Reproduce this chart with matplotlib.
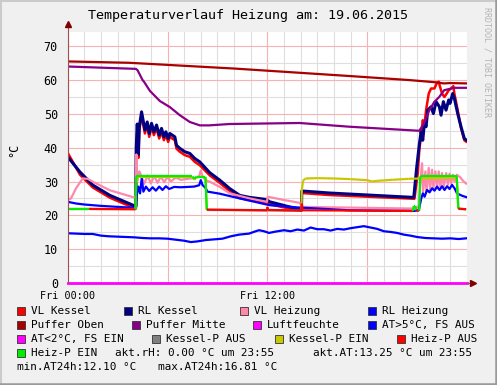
import numpy as np
import matplotlib
matplotlib.use('Agg')
import matplotlib.pyplot as plt
from matplotlib.patches import Rectangle
from matplotlib.lines import Line2D

W, H = 497, 385
MONO = 'DejaVu Sans Mono'

# --- data (hours since Fri 00:00, degrees C) ---
oben_t = [0, 3.7, 10, 16.9, 20.5, 22.2, 22.6, 23.0, 24]
oben_v = [65.5, 65.1, 63.4, 61.2, 60.0, 59.3, 59.0, 59.1, 59.0]

mitte_t = [0, 4.1, 4.2, 4.5, 4.6, 4.94, 5.54, 6.14, 6.74, 7.34, 7.94, 8.5, 9.74, 13.94,
           16.93, 21.13, 21.4, 21.73, 22.03, 22.33, 22.63, 23.23, 23.95]
mitte_v = [64.0, 63.3, 62.9, 60.0, 59.4, 56.8, 53.8, 52.0, 49.6, 47.6, 46.6, 46.6, 47.0, 47.3,
           46.2, 45.0, 47.0, 51.0, 53.5, 55.0, 57.0, 57.7, 57.7]

rlk_t = [0, 0.74, 1.52, 2.54, 3.92, 4.1, 4.12, 4.18, 4.25, 4.3, 4.44, 4.64, 4.78, 4.9, 5.04,
         5.18, 5.34, 5.5, 5.64, 5.78, 5.9, 6.04, 6.14, 6.44, 6.54, 6.74, 7.04, 7.34, 7.64,
         7.94, 8.54, 9.14, 9.74, 10.34, 10.94, 11.94, 12.14, 12.94, 13.94, 14.05, 14.07,
         15.74, 20.8, 20.98, 21.14, 21.24, 21.34, 21.44, 21.54, 21.64, 21.84, 21.98, 22.14,
         22.34, 22.44, 22.58, 22.74, 22.9, 22.98, 23.14, 23.24, 23.44, 23.64, 23.84, 23.95]
rlk_v = [37.3, 32.8, 28.9, 25.9, 23.0, 22.7, 40.0, 47.0, 38.0, 46.0, 50.6, 45.2, 47.6, 44.2, 47.2,
         44.7, 46.7, 43.7, 45.7, 43.2, 44.7, 42.7, 44.2, 43.2, 40.7, 39.8, 38.8, 38.3, 36.8,
         35.8, 32.6, 30.4, 27.9, 25.9, 25.3, 24.7, 24.0, 23.0, 21.7, 21.5, 27.2,
         26.6, 25.3, 34.3, 41.2, 44.7, 42.2, 47.2, 46.2, 51.1, 52.1, 50.1, 53.6,
         52.1, 49.6, 53.6, 51.1, 54.1, 53.1, 56.0, 54.6, 50.1, 46.2, 42.7, 42.3]

vlk_t = [0, 0.74, 1.52, 2.54, 3.92, 4.1, 4.12, 4.18, 4.25, 4.3, 4.44, 4.64, 4.78, 4.9, 5.04,
         5.18, 5.34, 5.5, 5.64, 5.78, 5.9, 6.04, 6.14, 6.44, 6.54, 6.74, 7.04, 7.34, 7.64,
         7.94, 8.54, 9.14, 9.74, 10.34, 10.94, 11.94, 12.14, 12.94, 13.94, 14.05, 14.07,
         15.74, 20.84, 21.04, 21.14, 21.24, 21.34, 21.44, 21.54, 21.7, 21.84, 22.04, 22.18,
         22.3, 22.38, 22.5, 22.64, 22.78, 22.9, 23.04, 23.18, 23.24, 23.44, 23.64, 23.84, 23.95]
vlk_v = [38.5, 32.0, 28.2, 25.2, 22.3, 22.0, 39.0, 46.0, 37.0, 45.0, 49.6, 44.2, 46.6, 43.2, 46.2,
         43.7, 45.7, 42.7, 44.7, 42.2, 43.7, 41.7, 43.2, 42.2, 39.7, 38.8, 37.8, 37.3, 35.8,
         34.8, 31.8, 29.6, 27.1, 25.1, 24.5, 23.9, 23.3, 22.4, 21.5, 21.4, 26.6,
         26.0, 24.9, 32.4, 39.8, 43.2, 48.1, 46.5, 51.1, 56.0, 57.5, 57.5, 59.0,
         59.5, 58.0, 56.0, 55.0, 56.0, 57.0, 57.5, 58.2, 56.0, 51.1, 45.8, 42.2, 41.8]

vlh_t = [0, 0.2, 0.5, 0.9, 1.2, 1.52, 2.54, 3.92, 4.1, 4.13, 4.17, 4.2, 4.3, 4.44, 4.6, 4.8, 5.0,
         5.2, 5.4, 5.6, 5.8, 6.0, 6.2, 6.5, 6.8, 7.2, 7.6, 7.9, 8.0, 8.1, 8.3, 8.6, 9.14, 9.74,
         10.94, 11.98, 12.02, 12.94, 13.94, 14.1, 20.8, 21.1, 21.2, 21.3, 21.36, 21.5, 21.56,
         21.7, 21.78, 21.9, 21.98, 22.1, 22.2, 22.3, 22.4, 22.5, 22.6, 22.75, 22.85, 22.95,
         23.05, 23.15, 23.25, 23.4, 23.6, 23.8, 23.95]
vlh_v = [24.5, 25.0, 28.0, 30.9, 30.8, 29.9, 27.4, 25.4, 25.3, 38.0, 30.0, 30.5, 33.0, 31.5, 29.3,
         31.8, 29.4, 31.7, 29.6, 31.5, 29.8, 31.4, 30.0, 31.2, 30.5, 30.8, 31.0, 31.5, 33.3, 31.5,
         30.4, 29.8, 28.4, 26.5, 25.0, 24.0, 25.5, 24.6, 23.7, 22.5, 22.0, 22.5, 30.0, 35.4,
         27.0, 33.0, 27.0, 34.0, 27.5, 33.5, 28.0, 33.0, 28.0, 33.0, 28.5, 32.5, 28.5, 32.5,
         29.0, 32.3, 29.5, 32.0, 30.0, 32.0, 31.2, 30.0, 29.4]

rlh_t = [0, 0.5, 1, 2, 3, 4.1, 4.15, 4.25, 4.35, 4.45, 4.55, 4.7, 4.9, 5.1, 5.3, 5.5, 5.7, 5.9,
         6.1, 6.4, 6.8, 7.2, 7.6, 7.9, 8.0, 8.1, 8.3, 8.4, 8.54, 9.14, 10.34, 12.14, 13.94,
         16.94, 20.8, 21.1, 21.25, 21.35, 21.45, 21.6, 21.75, 21.9, 22.05, 22.2, 22.35, 22.5,
         22.65, 22.8, 22.95, 23.1, 23.25, 23.4, 23.7, 23.95]
rlh_v = [24.0, 23.5, 23.2, 22.8, 22.5, 22.2, 26.0, 28.5, 26.5, 31.0, 27.0, 28.5, 27.2, 28.3, 27.3,
         28.5, 27.5, 28.6, 27.8, 28.4, 28.3, 28.4, 28.5, 28.9, 30.4, 29.0, 28.0, 27.0, 26.9,
         26.4, 25.0, 23.0, 22.3, 21.5, 21.3, 21.5, 25.0, 26.5, 25.5, 27.5, 26.8, 28.0, 27.3,
         28.5, 27.5, 28.6, 27.5, 28.6, 27.8, 29.0, 28.0, 26.5, 25.8, 25.4]

at_t = [0, 0.5, 1.0, 1.5, 2.0, 2.5, 3, 3.5, 4, 4.5, 5, 5.5, 6, 6.5, 7, 7.4, 7.8, 8.3, 8.8, 9.3,
        9.8, 10.3, 10.9, 11.3, 11.5, 11.8, 12.1, 12.5, 13, 13.4, 13.8, 14.2, 14.6, 15.0, 15.4,
        15.8, 16.2, 16.6, 17, 17.4, 17.8, 18.2, 18.6, 19.0, 19.4, 19.8, 20.2, 20.6, 21, 21.5,
        22, 22.5, 23, 23.5, 23.95]
at_v = [14.7, 14.6, 14.5, 14.5, 14.0, 13.8, 13.7, 13.6, 13.5, 13.3, 13.2, 13.2, 13.1, 12.8, 12.5,
        12.1, 12.3, 12.7, 12.9, 13.1, 13.8, 14.3, 14.6, 15.3, 15.6, 15.3, 14.8, 15.2, 15.6, 15.3,
        15.8, 15.5, 16.4, 15.9, 15.9, 15.5, 16.0, 15.8, 16.2, 16.5, 16.8, 16.4, 16.0, 15.3, 15.1,
        14.8, 14.3, 14.0, 13.6, 13.3, 13.2, 13.1, 13.2, 13.0, 13.2]

luft_t = [0, 24]
luft_v = [0.0, 0.0]

kesselp_t = [0, 4.08, 4.12, 4.2, 7.5, 7.6, 7.75, 8.28, 8.36, 14.05, 14.07, 14.15, 14.3, 15, 16,
             17, 18, 18.3, 18.6, 19.5, 20.5, 21.2, 23.38, 23.48, 23.95]
kesselp_v = [21.8, 21.8, 31.3, 31.3, 31.3, 30.6, 31.2, 31.2, 21.6, 21.4, 27.5, 30.3, 30.9, 31.0,
             30.9, 30.7, 30.4, 30.0, 30.2, 30.5, 30.8, 30.9, 31.2, 21.9, 21.8]
kesselp_on = [0, 0, 1, 1, 1, 1, 1, 1, 0, 0, 1, 1, 1, 1, 1, 1, 1, 1, 1, 1, 1, 1, 1, 0, 0]

heizp_t = [0, 1.25, 1.3, 4.08, 4.12, 4.2, 7.5, 7.6, 7.75, 8.28, 8.36, 11.98, 12.0, 12.05, 14.04,
           14.07, 14.12, 20.75, 20.8, 20.9, 20.95, 21.13, 21.18, 21.25, 23.38, 23.48, 23.95]
heizp_v = [22.0, 22.0, 21.9, 21.8, 31.5, 31.5, 31.5, 30.8, 31.4, 31.4, 21.7, 21.5, 22.5, 21.6,
           21.4, 23.5, 21.5, 21.3, 22.8, 22.8, 21.5, 21.4, 31.2, 31.6, 31.6, 22.0, 21.8]
heizp_on = [1, 1, 0, 0, 1, 1, 1, 1, 1, 1, 0, 0, 0, 0, 0, 0, 0, 0, 1, 1, 0, 0, 1, 1, 1, 0, 0]

legend_rows = [
    [('#ff0000', 'VL Kessel', 16.7, 31), ('#000080', 'RL Kessel', 124.3, 138.3),
     ('#ff88aa', 'VL Heizung', 240, 254), ('#0000ff', 'RL Heizung', 368.3, 382.3)],
    [('#aa0000', 'Puffer Oben', 16.7, 31), ('#880088', 'Puffer Mitte', 131.7, 145.7),
     ('#ff00ff', 'Luftfeuchte', 253.3, 267.3), ('#0000ff', 'AT>5°C, FS AUS', 368.3, 382.3)],
    [('#ff00ff', 'AT<2°C, FS EIN', 16.7, 31), ('#808080', 'Kessel-P AUS', 152.3, 166.3),
     ('#c8c800', 'Kessel-P EIN', 275, 289), ('#ff0000', 'Heiz-P AUS', 396.7, 410.7)],
    [('#00ee00', 'Heiz-P EIN', 16.7, 31)],
]
legend_y = [311, 325, 339, 353]


def px(x, y):
    return x / W, 1 - y / H


def state_line(ax, t, v, st, on_c, off_c, lw=1.6):
    for i in range(len(t) - 1):
        c = on_c if (st[i] or st[i + 1]) else off_c
        ax.plot(t[i:i + 2], v[i:i + 2], color=c, lw=lw, solid_capstyle='butt')


fig = plt.figure(figsize=(W / 100, H / 100), dpi=100, facecolor='#f0f0f0')
x0, x1, y0, y1 = 67.7, 467, 32, 283
ax = fig.add_axes([x0 / W, 1 - y1 / H, (x1 - x0) / W, (y1 - y0) / H])
ax.set_facecolor('white')
ax.set_xlim(0, 24)
ax.set_ylim(0, 74.2)

ax.set_xticks([0, 6, 12, 18])
ax.set_xticks(np.arange(0, 25, 1), minor=True)
ax.set_yticks(np.arange(0, 71, 10))
ax.set_yticks(np.arange(0, 75, 5), minor=True)
ax.set_xticklabels(['Fri 00:00', '', 'Fri 12:00', ''], fontfamily=MONO, fontsize=7.3)
ax.set_yticklabels([str(v) for v in range(0, 71, 10)], fontfamily=MONO, fontsize=8.5)
ax.tick_params(which='both', length=0)
ax.tick_params(axis='x', pad=6)
ax.tick_params(axis='y', pad=7)
ax.grid(which='minor', color='#dedede', lw=0.8)
ax.grid(which='major', color='#f5b3b3', lw=0.8)
ax.set_axisbelow(True)
for s in ax.spines.values():
    s.set_visible(False)

ax.plot(vlk_t, vlk_v, color='#ff0000', lw=1.8)
ax.plot(rlk_t, rlk_v, color='#000080', lw=2.2)
ax.plot(vlh_t, vlh_v, color='#ff88aa', lw=1.6)
ax.plot(rlh_t, rlh_v, color='#0000ff', lw=1.6)
ax.plot(oben_t, oben_v, color='#aa0000', lw=1.6)
ax.plot(mitte_t, mitte_v, color='#880088', lw=1.6)
ax.plot(luft_t, luft_v, color='#ff00ff', lw=2.0, clip_on=False)
ax.plot(at_t, at_v, color='#0000ff', lw=1.6)
state_line(ax, kesselp_t, kesselp_v, kesselp_on, '#c8c800', '#808080')
state_line(ax, heizp_t, heizp_v, heizp_on, '#00ee00', '#ff0000')

# axes with arrows
ax.plot([0, 0], [0, 1.03], transform=ax.transAxes, color='#a05050', lw=0.8, clip_on=False)
ax.plot([1.0, 1.015], [0, 0], transform=ax.transAxes, color='#a05050', lw=0.8, clip_on=False)
ax.plot([0], [1.03], marker='^', ms=4, color='#7f0000', transform=ax.transAxes, clip_on=False)
ax.plot([1.015], [0], marker='>', ms=4, color='#7f0000', transform=ax.transAxes, clip_on=False)

fig.text(*px(248, 16), 'Temperaturverlauf Heizung am: 19.06.2015', ha='center', va='center',
         fontfamily=MONO, fontsize=9.6)
fig.text(*px(14, 150), '°C', ha='center', va='center', rotation=90, fontfamily=MONO, fontsize=8.5)
fig.text(*px(486.5, 62), 'RRDTOOL / TOBI OETIKER', ha='center', va='center', rotation=-90,
         fontfamily=MONO, fontsize=6, color='#b4b4b4')

for row, yy in zip(legend_rows, legend_y):
    for col, label, sx, tx in row:
        fig.patches.append(Rectangle(px(sx, yy + 4), 8 / W, 8 / H, transform=fig.transFigure,
                                     facecolor=col, edgecolor='#333333', lw=0.6))
        fig.text(*px(tx, yy), label, ha='left', va='center', fontfamily=MONO, fontsize=7.9)

fig.text(*px(115, 353), 'akt.rH: 0.00 °C um 23:55', ha='left', va='center', fontfamily=MONO, fontsize=7.9)
fig.text(*px(312.7, 353), 'akt.AT:13.25 °C um 23:55', ha='left', va='center', fontfamily=MONO, fontsize=7.9)
fig.text(*px(16.7, 367), 'min.AT24h:12.10 °C', ha='left', va='center', fontfamily=MONO, fontsize=7.9)
fig.text(*px(158, 367), 'max.AT24h:16.81 °C', ha='left', va='center', fontfamily=MONO, fontsize=7.9)

# 3d frame
fig.lines.append(Line2D([0, 1], [0.998, 0.998], transform=fig.transFigure, color='#cbcbcb', lw=1.5))
fig.lines.append(Line2D([0.002, 0.002], [0, 1], transform=fig.transFigure, color='#cbcbcb', lw=1.5))
fig.lines.append(Line2D([0, 1], [0.003, 0.003], transform=fig.transFigure, color='#999999', lw=1.8))
fig.lines.append(Line2D([0.997, 0.997], [0, 1], transform=fig.transFigure, color='#999999', lw=1.8))

fig.savefig('out.png', dpi=100, facecolor=fig.get_facecolor())
